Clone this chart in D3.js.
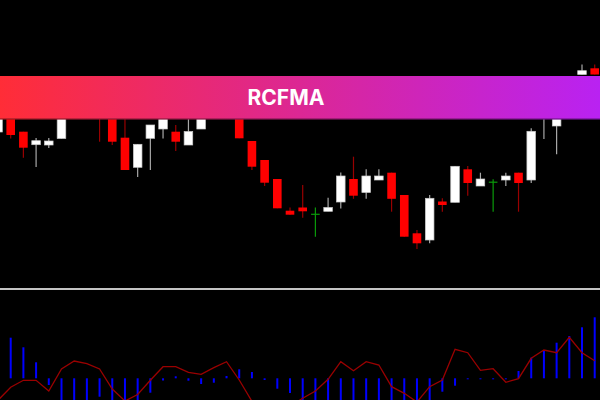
<!DOCTYPE html>
<html><head><meta charset="utf-8">
<script src="https://cdn.jsdelivr.net/npm/d3@7"></script>
<style>html,body{margin:0;padding:0;background:#000;overflow:hidden}</style>
</head><body><svg id="c" width="600" height="400"></svg>
<script>
// Bar index (one candle per index; -1 is the partial candle at the left edge)
const bars = d3.range(-1, 47);
// Prices (arbitrary units)
const opens  = [168,188,168.3,155.3,155,161.5,186,200,198,190,162.3,132.7,161.7,171,168.3,155,171,200,196,192,159,140,121,89.3,92.5,85.7,88.7,98,121,107.5,120,127.3,105,66.7,60,98.5,97.7,130.7,114,117.8,120,127.3,120,186,174,188,225.5,231.7];
const closes = [200,165,152.3,159.3,159,188,200,190,183,158.3,130,155.7,175,184,158.3,168.5,183,190,188,161.7,133.3,117.3,91.7,85.3,88.7,85.7,92.5,124,104.3,124,124,101.2,63.3,56.7,101.7,95,133.7,117,121,117.8,124,117,168.7,202,192,208,229.3,225.5];
const highs  = [205,192,168.3,162,162,192,205,204,202,194,188,155.7,175,188,175,185,190,205,200,196,159,140,121,92.5,115,92.5,102.3,127.5,143.3,130.7,130.7,127.3,105,70,105,101.7,133.7,134,127.3,120.8,127.3,127.3,171.7,206,198,214,235.5,235.5];
const lows   = [167,161.5,142.3,133,152,161.5,184,185,158.3,155,130,123,130,161.5,149,155,171,186,185,161.7,130,114,91.7,85.3,82.2,63.3,88.7,91.5,101.2,101.3,120,88.3,63.3,51,56.7,88.3,97.7,104.3,114,88.3,114,88.3,117,161,145.7,184,225.5,225.5];
// Indicator: histogram and signal line
const histValues = [4.5,4.06,3.10,1.60,-0.67,-2.5,-3.0,-2.7,-1.84,-2.6,-3.2,-2.9,-1.44,-0.22,0.20,-0.24,-0.57,-0.44,0.23,0.90,0.63,-0.17,-1.04,-1.47,-2.4,-2.9,-3.3,-3.1,-2.8,-3.0,-2.6,-2.9,-3.5,-3.8,-2.6,-1.34,-0.74,-0.07,-0.07,-0.07,-0.04,0.73,2.06,2.73,3.56,4.23,5.10,6.10];
const signalValues = [-2.2,-0.90,-0.20,-0.20,-1.27,0.93,1.73,1.46,0.93,-1.07,-2.27,-1.62,-0.20,1.16,1.16,0.60,0.40,1.06,1.66,-0.17,-2.3,-3.0,-3.2,-2.8,-2.0,-1.27,-0.10,1.66,0.76,1.66,1.33,-0.84,-1.50,-2.37,-0.84,-0.17,2.90,2.56,0.80,0.96,-0.40,-0.04,2.00,2.83,2.56,4.10,2.56,1.76];
const title = "RCFMA";

const W = 600, H = 400;
const svg = d3.select("#c");
svg.append("rect").attr("width", W).attr("height", H).attr("fill", "#000");

const x = d3.scaleLinear().domain([0, 46]).range([10.7, 594.7]);
const y = d3.scaleLinear().domain([0, 300]).range([300, 0]);
const yi = d3.scaleLinear().domain([-2.17, 8]).range([400, 298.3]);

const defs = svg.append("defs");
defs.append("clipPath").attr("id", "mainClip").append("rect").attr("x", 0).attr("y", 0).attr("width", W).attr("height", 287);
defs.append("clipPath").attr("id", "indClip").append("rect").attr("x", 0).attr("y", 291).attr("width", W).attr("height", 109);
const grad = defs.append("linearGradient").attr("id", "bannerGrad").attr("x1", "0%").attr("x2", "100%");
grad.append("stop").attr("offset", "0%").attr("stop-color", "#ff2d37");
grad.append("stop").attr("offset", "50%").attr("stop-color", "#dc2794");
grad.append("stop").attr("offset", "100%").attr("stop-color", "#b922f2");

const candles = bars.map((b, i) => ({b, o: opens[i], c: closes[i], h: highs[i], l: lows[i]}));
const bw = 8.6;
const kind = d => d.c > d.o ? "up" : (d.c < d.o ? "down" : "doji");
const wickColor = {up: "#a8a8a8", down: "#990000", doji: "#0a9a0a"};

const main = svg.append("g").attr("clip-path", "url(#mainClip)");
main.selectAll("line.wick").data(candles).join("line")
  .attr("class", "wick")
  .attr("x1", d => x(d.b)).attr("x2", d => x(d.b))
  .attr("y1", d => y(d.h)).attr("y2", d => y(d.l))
  .attr("stroke", d => wickColor[kind(d)]).attr("stroke-width", 1.2);
main.selectAll("rect.body").data(candles.filter(d => kind(d) !== "doji")).join("rect")
  .attr("class", "body")
  .attr("x", d => x(d.b) - bw / 2).attr("width", bw)
  .attr("y", d => y(Math.max(d.o, d.c)))
  .attr("height", d => Math.abs(y(d.o) - y(d.c)))
  .attr("fill", d => kind(d) === "up" ? "#ffffff" : "#ff0000")
  .attr("stroke", d => kind(d) === "up" ? "#c8c8c8" : "none")
  .attr("stroke-width", 0.7);
main.selectAll("line.doji").data(candles.filter(d => kind(d) === "doji")).join("line")
  .attr("class", "doji")
  .attr("x1", d => x(d.b) - bw / 2).attr("x2", d => x(d.b) + bw / 2)
  .attr("y1", d => y(d.o)).attr("y2", d => y(d.o))
  .attr("stroke", wickColor.doji).attr("stroke-width", 1.2);

// Banner
svg.append("rect").attr("x", 0).attr("y", 76).attr("width", W).attr("height", 43.5).attr("fill", "url(#bannerGrad)");
svg.append("rect").attr("x", 0).attr("y", 118.3).attr("width", W).attr("height", 1.4).attr("fill", "#000").attr("opacity", 0.35);
svg.append("text").attr("x", 286).attr("y", 104.5).attr("text-anchor", "middle")
  .attr("font-family", "Inter, 'Open Sans', sans-serif").attr("font-weight", 700).attr("font-size", 21)
  .attr("fill", "#fff").text(title);

// Separator
svg.append("line").attr("x1", 0).attr("x2", W).attr("y1", 289).attr("y2", 289)
  .attr("stroke", "#c4c4c4").attr("stroke-width", 2);

// Indicator
const ind = svg.append("g").attr("clip-path", "url(#indClip)");
ind.selectAll("rect.hist").data(bars.map((b, i) => ({b, v: histValues[i]}))).join("rect")
  .attr("class", "hist")
  .attr("x", d => x(d.b) - 1).attr("width", 2)
  .attr("y", d => Math.min(yi(d.v), yi(0)))
  .attr("height", d => Math.max(1, Math.abs(yi(d.v) - yi(0))))
  .attr("fill", "#0000ff");
const line = d3.line().x((d, i) => x(bars[i])).y(d => yi(d));
ind.append("path").datum(signalValues).attr("d", line)
  .attr("fill", "none").attr("stroke", "#9a0000").attr("stroke-width", 1.3);
</script>
</body></html>
